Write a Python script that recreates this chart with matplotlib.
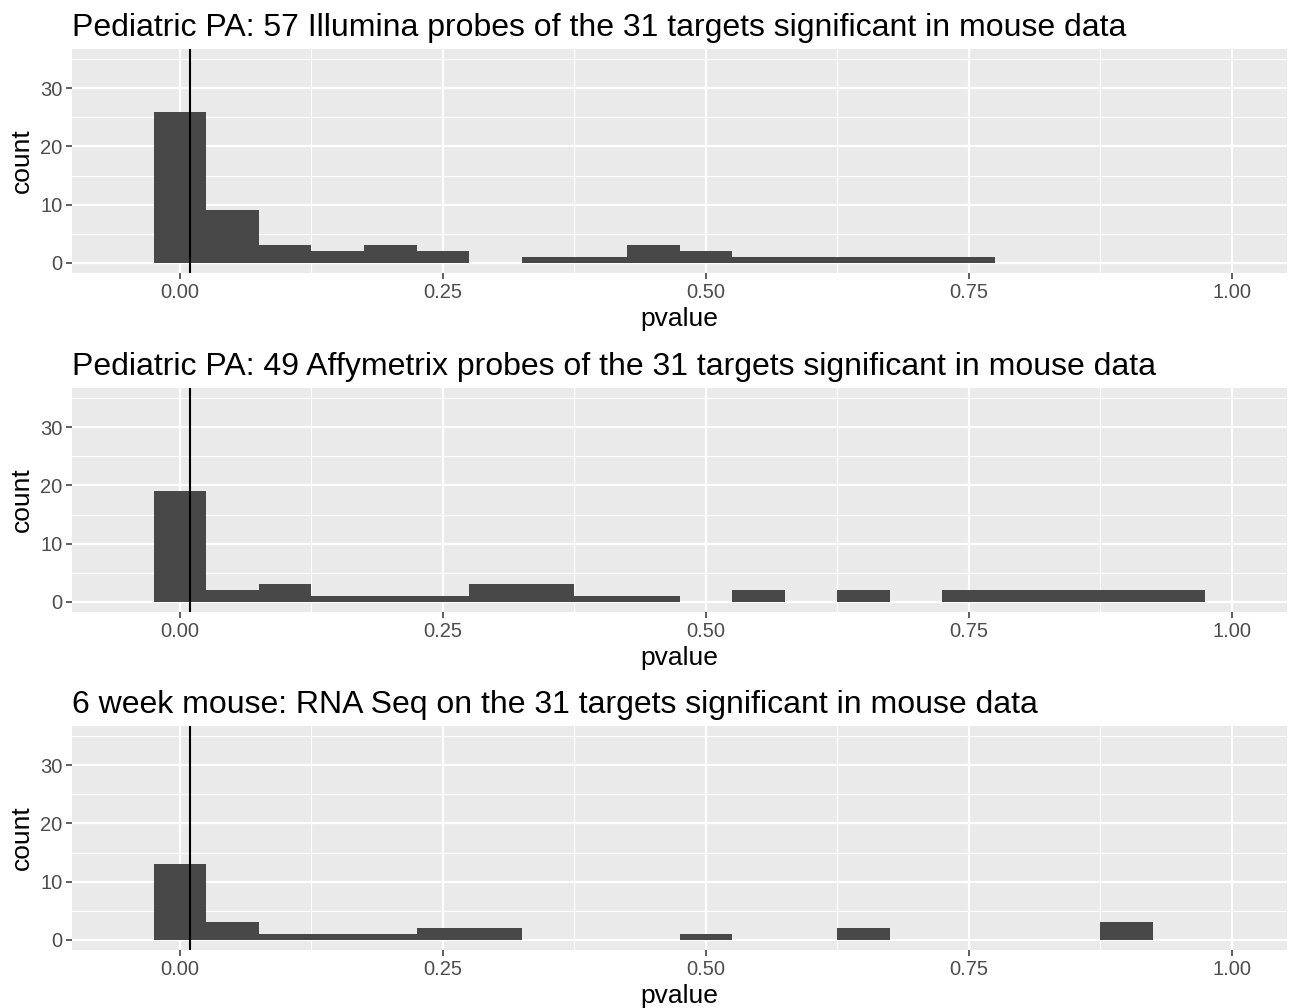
import matplotlib
matplotlib.use("Agg")
import matplotlib.pyplot as plt
from matplotlib.ticker import FixedLocator

plt.rcParams['font.family'] = ['Liberation Sans', 'DejaVu Sans']

# histogram bins (centres, width 0.05)
bin_centers = [0.00, 0.05, 0.10, 0.15, 0.20, 0.25, 0.30, 0.35, 0.40, 0.45,
               0.50, 0.55, 0.60, 0.65, 0.70, 0.75, 0.80, 0.85, 0.90, 0.95]
bin_width = 0.05

illumina_counts = [26, 9, 3, 2, 3, 2, 0, 1, 1, 3, 2, 1, 1, 1, 1, 1, 0, 0, 0, 0]
affy_counts     = [19, 2, 3, 1, 1, 1, 3, 3, 1, 1, 0, 2, 0, 2, 0, 2, 2, 2, 2, 2]
rnaseq_counts   = [13, 3, 1, 1, 1, 2, 2, 0, 0, 0, 1, 0, 0, 2, 0, 0, 0, 0, 3, 0]

titles = [
    "Pediatric PA: 57 Illumina probes of the 31 targets significant in mouse data",
    "Pediatric PA: 49 Affymetrix probes of the 31 targets significant in mouse data",
    "6 week mouse: RNA Seq on the 31 targets significant in mouse data",
]
panel_counts = [illumina_counts, affy_counts, rnaseq_counts]

cutoff = 0.01
x_ticks = [0.00, 0.25, 0.50, 0.75, 1.00]
x_minor = [-0.125, 0.125, 0.375, 0.625, 0.875]
y_ticks = [0, 10, 20, 30]
y_minor = [5, 15, 25, 35]

W, H = 1291, 1008
fig = plt.figure(figsize=(W / 100, H / 100), dpi=100)

# panel boxes in pixels
panel_tops = [49, 388, 726]
panel_h = 224
left_px, right_px = 72, 1287

for i, (title, counts) in enumerate(zip(titles, panel_counts)):
    top = panel_tops[i]
    ax = fig.add_axes([left_px / W, 1 - (top + panel_h) / H,
                       (right_px - left_px) / W, panel_h / H])
    ax.set_facecolor('#EAEAEA')
    for s in ax.spines.values():
        s.set_visible(False)

    ax.bar(bin_centers, counts, width=bin_width, color='#484848',
           edgecolor='none', zorder=3)
    ax.axvline(cutoff, color='black', lw=1.5, zorder=4)

    ax.set_xlim(-0.1025, 1.0525)
    ax.set_ylim(-1.75, 36.75)
    ax.xaxis.set_major_locator(FixedLocator(x_ticks))
    ax.xaxis.set_minor_locator(FixedLocator(x_minor))
    ax.yaxis.set_major_locator(FixedLocator(y_ticks))
    ax.yaxis.set_minor_locator(FixedLocator(y_minor))
    ax.set_xticklabels(["0.00", "0.25", "0.50", "0.75", "1.00"])
    ax.grid(which='major', color='white', lw=1.6, zorder=0)
    ax.grid(which='minor', color='white', lw=0.8, zorder=0)
    ax.set_axisbelow(True)

    ax.tick_params(which='major', length=4, width=1.1, color='#333333',
                   labelsize=14.5, labelcolor='#4D4D4D', pad=3)
    ax.tick_params(which='minor', length=0)

    ax.set_xlabel("pvalue", fontsize=19, labelpad=4)
    ax.set_ylabel("count", fontsize=19, labelpad=4)
    ax.set_title(title, fontsize=23, loc='left', pad=9)

fig.savefig("out.png", dpi=100)
